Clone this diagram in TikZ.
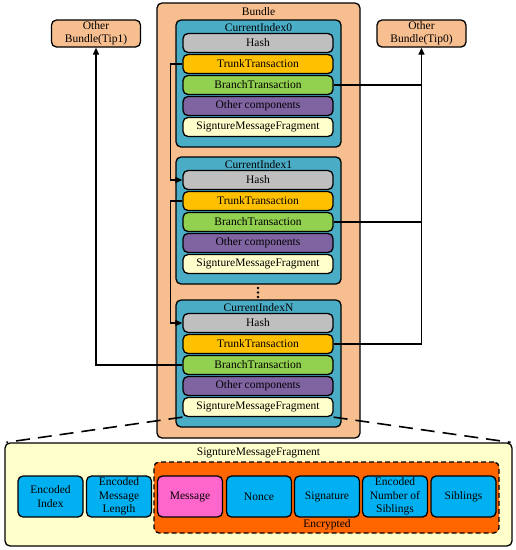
\documentclass[tikz,border=0pt]{standalone}
\usepackage{fontspec}
\setmainfont{Liberation Serif}
\usetikzlibrary{arrows.meta}
\definecolor{peach}{HTML}{F7BE90}
\definecolor{teal}{HTML}{4BACC6}
\definecolor{hashc}{HTML}{BFBFBF}
\definecolor{trunkc}{HTML}{FFC000}
\definecolor{branchc}{HTML}{92D050}
\definecolor{otherc}{HTML}{8064A2}
\definecolor{sigc}{HTML}{FFFFCC}
\definecolor{fragc}{HTML}{FFFFCC}
\definecolor{bluec}{HTML}{00B0F0}
\definecolor{orangec}{HTML}{FF6600}
\definecolor{pinkc}{HTML}{FF66CC}
\begin{document}
\begin{tikzpicture}[x=1pt,y=-1pt,
  every node/.style={font=\fontsize{11.5}{13.3}\selectfont, inner sep=0pt, align=center},
  box/.style={draw, line width=1.3pt, rounded corners=5pt},
  rowbox/.style={box, minimum width=150pt, minimum height=19pt},
  blockbox/.style={box, fill=teal, minimum width=165pt, minimum height=127pt},
  smallbox/.style={box, fill=bluec, minimum width=65pt, minimum height=41pt},
  tipbox/.style={box, fill=peach, minimum width=89pt, minimum height=27pt},
  conn/.style={line width=1.3pt},
  arr/.style={conn, -{Triangle[length=7pt,width=6pt]}},
  dashline/.style={line width=1.6pt, dash pattern=on 14pt off 8pt}
]
\useasboundingbox (0,0) rectangle (516,550);
% Bundle
\node[box, fill=peach, minimum width=203pt, minimum height=435pt] (bundle) at (258.5,220.5) {};
\node (bundlelab) at (258.5,12) {Bundle};
% Tips
\node[tipbox] (tip1) at (96,33.5) {Other\\Bundle(Tip1)};
\node[tipbox] (tip0) at (421.5,33.5) {Other\\Bundle(Tip0)};
% Blocks
\foreach \n/\y/\lab in {0/20/CurrentIndex0, 1/157/CurrentIndex1, N/300/CurrentIndexN}{
  \node[blockbox] (blk\n) at (258.5,\y+63.5) {};
  \node (lab\n) at (258.5,\y+7.5) {\lab};
  \node[rowbox, fill=hashc] (h\n) at (258,\y+23) {Hash};
  \node[rowbox, fill=trunkc] (t\n) at (258,\y+44) {TrunkTransaction};
  \node[rowbox, fill=branchc] (b\n) at (258,\y+65) {BranchTransaction};
  \node[rowbox, fill=otherc] (o\n) at (258,\y+86) {Other components};
  \node[rowbox, fill=sigc] (s\n) at (258,\y+107) {SigntureMessageFragment};
}
% dots
\foreach \yy in {288,292.5,297}{
  \fill (258,\yy) circle (1.4pt);
}
% connectors
\draw[arr] (t0.west) -- ++(-12,0) |- (h1.west);
\draw[arr] (t1.west) -- ++(-12,0) |- (hN.west);
\draw[arr] (bN.west) -| (tip1.south);
\draw[arr] (tN.east) -| (tip0.south);
\draw[conn] (b0.east) -- (tip0.south |- b0.east);
\draw[conn] (b1.east) -- (tip0.south |- b1.east);
% lower fragment box
\node[box, fill=fragc, minimum width=507pt, minimum height=103pt] (frag) at (258.5,494.5) {};
\node (fraglab) at (258.5,453) {SigntureMessageFragment};
\draw[dashline] (sN.south west) -- ([xshift=2pt]frag.north west);
\draw[dashline] (sN.south east) -- ([xshift=-2pt]frag.north east);
\node[box, fill=orangec, dashed, dash pattern=on 5pt off 3pt, minimum width=345pt, minimum height=71pt] (enc) at (326.5,497.5) {};
\node (enclab) at (327,525) {Encrypted};
\node[smallbox] (ei) at (50.5,496.5) {Encoded\\Index};
\node[smallbox] (eml) at (119,496.5) {Encoded\\Message\\Length};
\node[smallbox, fill=pinkc] (msg) at (190,496.5) {Message};
\node[smallbox] (nonce) at (259,496.5) {Nonce};
\node[smallbox] (sig) at (327,496.5) {Signature};
\node[smallbox] (ens) at (395,496.5) {Encoded\\Number of\\Siblings};
\node[smallbox] (sib) at (463.5,496.5) {Siblings};
\end{tikzpicture}
\end{document}
